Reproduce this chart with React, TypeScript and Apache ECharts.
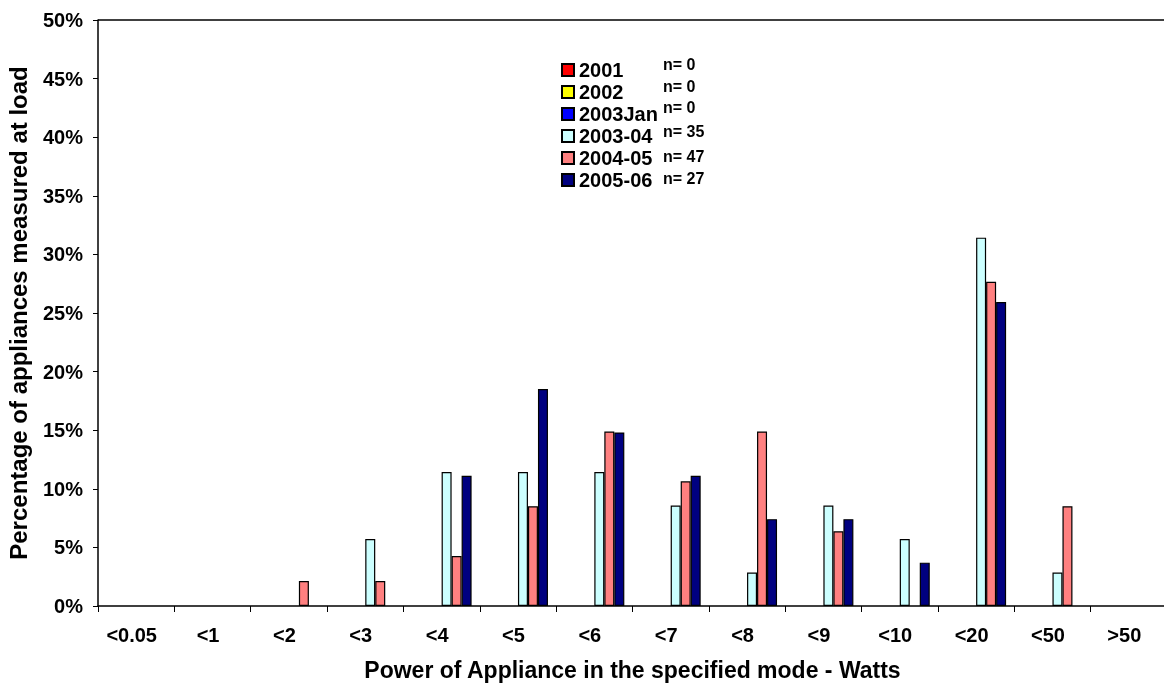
import React, { useEffect, useRef } from "react";
import * as echarts from "echarts";

const categories = ["<0.05", "<1", "<2", "<3", "<4", "<5", "<6", "<7", "<8", "<9", "<10", "<20", "<50", ">50"];
const seriesNames = ["2001", "2002", "2003Jan", "2003-04", "2004-05", "2005-06"];
const sampleSizes = ["n= 0", "n= 0", "n= 0", "n= 35", "n= 47", "n= 27"];
const colors = ["#FF0000", "#FFFF00", "#0000FF", "#CCFFFF", "#FF8080", "#000080"];

const v2001 = [0, 0, 0, 0, 0, 0, 0, 0, 0, 0, 0, 0, 0, 0];
const v2002 = [0, 0, 0, 0, 0, 0, 0, 0, 0, 0, 0, 0, 0, 0];
const v2003Jan = [0, 0, 0, 0, 0, 0, 0, 0, 0, 0, 0, 0, 0, 0];
const v2003_04 = [0, 0, 0, 5.71, 11.43, 11.43, 11.43, 8.57, 2.86, 8.57, 5.71, 31.43, 2.86, 0];
const v2004_05 = [0, 0, 2.13, 2.13, 4.26, 8.51, 14.89, 10.64, 14.89, 6.38, 0, 27.66, 8.51, 0];
const v2005_06 = [0, 0, 0, 0, 11.11, 18.52, 14.81, 11.11, 7.41, 7.41, 3.7, 25.93, 0, 0];

const allValues = [v2001, v2002, v2003Jan, v2003_04, v2004_05, v2005_06];

const FONT = "'Liberation Sans', Arial, sans-serif";

export default function App() {
  const ref = useRef<HTMLDivElement>(null);
  useEffect(() => {
    if (!ref.current) return;
    const chart = echarts.init(ref.current, null, { renderer: "svg" });
    const nCenters = [64, 86, 107, 131, 156, 178];
    chart.setOption({
      animation: false,
      textStyle: { fontFamily: FONT },
      grid: { left: 98, right: -3, top: 20, bottom: 80, containLabel: false, outerBoundsMode: "none" },
      legend: {
        orient: "vertical",
        left: 556,
        top: 55,
        icon: "rect",
        itemWidth: 12,
        itemHeight: 12,
        itemGap: 2,
        selectedMode: false,
        textStyle: { fontFamily: FONT, fontWeight: "bold", fontSize: 20, color: "#000" },
        data: seriesNames,
      },
      xAxis: {
        type: "category",
        data: categories,
        axisLine: { lineStyle: { color: "#000", width: 1.5 } },
        axisTick: { show: true, length: 6, lineStyle: { color: "#000" } },
        axisLabel: { fontFamily: FONT, fontWeight: "bold", fontSize: 20, color: "#000", margin: 19, padding: [0, 9, 0, 0] },
        name: "Power of Appliance in the specified mode - Watts",
        nameLocation: "middle",
        nameGap: 52,
        nameTextStyle: { fontFamily: FONT, fontWeight: "bold", fontSize: 23, color: "#000" },
      },
      yAxis: {
        type: "value",
        min: 0,
        max: 50,
        interval: 5,
        axisLine: { show: true, lineStyle: { color: "#000", width: 1.5 } },
        axisTick: { show: true, length: 5, lineStyle: { color: "#000" } },
        splitLine: { show: false },
        axisLabel: { formatter: "{value}%", fontFamily: FONT, fontWeight: "bold", fontSize: 20, color: "#000", margin: 15 },
        name: "Percentage of appliances measured at load",
        nameLocation: "middle",
        nameGap: 68,
        nameTextStyle: { fontFamily: FONT, fontWeight: "bold", fontSize: 24, color: "#000" },
      },
      graphic: [
        { type: "line", shape: { x1: 98, y1: 20, x2: 1164, y2: 20 }, style: { stroke: "#000", lineWidth: 1.5 } },
        ...sampleSizes.map((s, i) => ({
          type: "text",
          x: 663,
          y: nCenters[i],
          style: { text: s, font: `bold 16px ${FONT}`, fill: "#000", verticalAlign: "middle" },
        })),
      ],
      series: seriesNames.map((name, i) => ({
        name,
        type: "bar",
        barWidth: 10,
        barGap: "0%",
        itemStyle: { color: colors[i], borderColor: "#000", borderWidth: 1.2 },
        data: allValues[i].map((v) => (v === 0 ? null : v)),
      })),
    });
    return () => chart.dispose();
  }, []);
  return <div ref={ref} style={{ position: "fixed", left: 0, top: 0, width: 1164, height: 686 }} />;
}
